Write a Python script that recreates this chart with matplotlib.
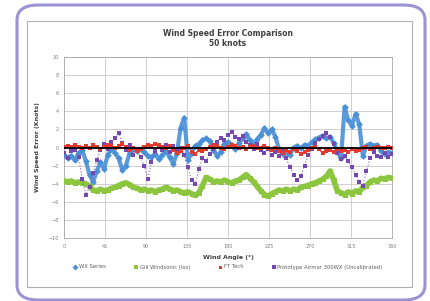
import matplotlib
matplotlib.use("Agg")
import matplotlib.pyplot as plt
import numpy as np
from matplotlib.patches import FancyBboxPatch, Rectangle

# wind angle (deg), one reading every 4 degrees
angles = np.arange(0, 361, 4)

wx_series = [
    -0.8, -1.2, -0.9, -1.4, -0.6, -0.3, -1.5, -3.0, -3.8, -2.6, -1.6, -2.4, -0.8,
    -0.2, -0.6, -1.2, -2.5, -2.0, -0.6, -0.2, -0.4, -0.2, -0.5, -0.9, -1.1, -0.7,
    -1.3, -0.8, -0.4, -1.1, -1.8, -0.6, 2.2, 3.3, -1.4, -0.6, 0.2, 0.4, 0.8,
    1.0, 0.7, -0.3, -0.9, -0.5, 0.4, 0.6, 0.3, -0.2, 0.5, 1.0, 1.5, 0.8,
    0.4, 0.9, 1.4, 2.1, 1.6, 2.0, 1.2, -0.2, -0.7, -0.5, -0.8, 0.0, 0.2,
    -0.1, 0.3, 0.2, 0.6, 0.9, 1.1, 1.3, 1.0, 1.2, 0.5, -0.4, -1.2, 4.5,
    3.0, 2.4, 3.7, 2.6, -0.9, 0.2, 0.4, 0.2, 0.3, -0.4, -0.7, -0.5, -0.6,
]
gill_windsonic = [
    -3.7, -3.8, -3.7, -3.9, -3.8, -3.9, -4.0, -4.3, -4.7, -4.8, -4.6, -4.8, -4.7,
    -4.5, -4.4, -4.2, -4.0, -3.9, -4.1, -4.4, -4.5, -4.7, -4.6, -4.8, -4.7, -4.9,
    -4.7, -4.6, -4.4, -4.6, -4.8, -4.7, -4.9, -5.0, -4.9, -5.1, -5.3, -5.0, -4.2,
    -3.3, -3.5, -3.8, -3.7, -3.8, -3.6, -3.8, -3.9, -3.7, -3.6, -3.3, -3.0, -3.4,
    -3.8, -4.3, -4.8, -5.2, -5.4, -5.1, -4.9, -4.7, -4.8, -4.6, -4.8, -4.6, -4.7,
    -4.4, -4.3, -4.2, -4.0, -3.9, -3.7, -3.5, -3.2, -2.6, -3.6, -4.8, -5.0, -5.2,
    -4.9, -5.1, -4.8, -4.9, -4.4, -4.2, -3.8, -3.6, -3.7, -3.4, -3.5, -3.3, -3.4,
]
ft_tech = [
    0.1, 0.2, 0.1, 0.3, 0.1, -0.1, 0.2, 0.0, 0.3, 0.1, -0.2, 0.1, 0.3,
    0.2, -0.1, 0.2, 0.4, 0.1, -0.3, 0.0, -0.4, -0.2, 0.1, 0.3, 0.2, 0.4,
    0.3, 0.1, -0.1, 0.2, -0.3, -0.6, -0.4, -0.1, 0.2, -0.5, -0.7, -0.3, -0.4,
    -0.2, 0.1, 0.3, 0.2, 0.0, -0.2, 0.1, 0.3, 0.2, 0.0, 0.1, -0.2, 0.1,
    0.2, -0.1, 0.0, 0.2, -0.1, -0.3, 0.0, -0.4, -0.6, -0.3, -0.5, -0.2, -0.4,
    -0.7, -0.5, -0.3, -0.1, 0.1, -0.2, -0.6, -0.4, -0.3, -0.5, -0.2, -0.4, -0.3,
    -0.5, -0.2, -0.4, -0.3, -0.1, 0.1, -0.2, 0.0, 0.1, -0.1, 0.0, 0.1, 0.0,
]
prototype = [
    -0.6, -1.2, -0.4, -0.3, -1.0, -3.5, -5.2, -4.4, -2.8, -1.4, -0.3, 0.4, -0.2,
    0.6, 1.0, 1.6, 0.5, -0.3, 0.3, -0.8, -0.3, -1.0, -2.0, -3.5, -1.6, -0.4,
    0.2, -0.3, 0.3, -0.5, 0.2, -0.4, 0.0, -0.8, -2.2, -3.6, -4.0, -2.4, -1.2,
    -1.5, -0.7, -0.2, 0.6, 1.1, 0.8, 1.4, 1.7, 1.2, 0.9, 1.3, 0.6, 0.3,
    -0.2, 0.4, -0.3, -0.6, -0.2, -0.8, -0.5, -0.9, -0.4, -1.2, -2.2, -3.0, -3.6,
    -3.2, -2.0, -0.8, -0.2, 0.5, 0.9, 1.3, 1.6, 1.2, 0.4, -0.6, -1.3, -0.9,
    -1.5, -2.2, -3.0, -3.8, -4.2, -2.6, -1.2, -0.5, -0.9, -1.1, -0.6, -1.0, -0.7,
]

x_ticks = [0, 45, 90, 135, 180, 225, 270, 315, 360]
y_ticks = [-10, -8, -6, -4, -2, 0, 2, 4, 6, 8, 10]

fig = plt.figure(figsize=(4.3, 3.01), dpi=100)

# rounded purple frame around the whole picture, then the grey chart box
fig.patches.append(FancyBboxPatch(
    (17 / 430, 1 - 300 / 301), 408 / 430, 295 / 301,
    boxstyle="round,pad=0,rounding_size=0.05", transform=fig.transFigure,
    facecolor="white", edgecolor="#9b93d3", linewidth=2.2, zorder=0))
fig.patches.append(Rectangle(
    (27 / 430, 1 - 287 / 301), 385 / 430, 266 / 301,
    transform=fig.transFigure, facecolor="white", edgecolor="#b0b0b0",
    linewidth=0.8, zorder=1))

ax = fig.add_axes([64 / 430, 1 - 238 / 301, 328 / 430, 181 / 301])
ax.set_zorder(2)

# the logged points are dense in the original, so join the readings with a
# thick line in the same colour to get the solid bands
ax.plot(angles, wx_series, color="#4a90d6", linewidth=3.0, alpha=0.9,
        zorder=3)
ax.plot(angles, wx_series, "D", color="#4a90d6", markersize=3.4,
        markeredgewidth=0, label="WX Series", zorder=3)
ax.plot(angles, gill_windsonic, color="#8cc63f", linewidth=4.0, zorder=3)
ax.plot(angles, gill_windsonic, "s", color="#8cc63f", markersize=3.6,
        markeredgewidth=0, label="Gill Windsonic (lox)", zorder=3)
ax.plot(angles, prototype, color="#7448b0", linewidth=0.9, alpha=0.7,
        linestyle=(0, (1, 1.5)), zorder=4)
ax.plot(angles, prototype, "s", color="#7448b0", markersize=2.6,
        markeredgewidth=0, label="Prototype Airmar 300WX (Uncalibrated)",
        zorder=4)
ax.plot(angles, ft_tech, color="#e23a2e", linewidth=1.2,
        linestyle=(0, (1, 1)), zorder=5)
ax.plot(angles, ft_tech, "s", color="#e23a2e", markersize=2.4,
        markeredgewidth=0, label="FT Tech", zorder=5)
ax.axhline(0, color="black", linewidth=1.3, zorder=6)

ax.set_xlim(0, 360)
ax.set_ylim(-10, 10)
ax.set_xticks(x_ticks)
ax.set_yticks(y_ticks)
ax.tick_params(labelsize=3.5, colors="#808080", length=0, pad=4)
ax.grid(color="#c8c8c8", linewidth=0.6)
ax.set_axisbelow(True)
for s in ax.spines.values():
    s.set_color("#a8a8a8")
    s.set_linewidth(0.6)

fig.text(228 / 430, 1 - 33 / 301, "Wind Speed Error Comparison",
         ha="center", va="center", fontsize=5.5, fontweight="bold",
         color="#404040")
fig.text(228 / 430, 1 - 44 / 301, "50 knots", ha="center", va="center",
         fontsize=5.5, fontweight="bold", color="#404040")
ax.set_xlabel("Wind Angle (°)", fontsize=4.5, fontweight="bold",
              color="#404040", labelpad=5)
ax.set_ylabel("Wind Speed Error (Knots)", fontsize=4.5, fontweight="bold",
              color="#404040", labelpad=6)

handles, labels = ax.get_legend_handles_labels()
order = [0, 1, 3, 2]
fig.legend([handles[i] for i in order], [labels[i] for i in order],
           loc="center", bbox_to_anchor=(228 / 430, 1 - 267 / 301), ncol=4,
           frameon=False, fontsize=3.8, markerscale=0.9, handlelength=0.8,
           handletextpad=0.3, columnspacing=5.3, labelcolor="#606060")

fig.savefig("out.png", dpi=100)
